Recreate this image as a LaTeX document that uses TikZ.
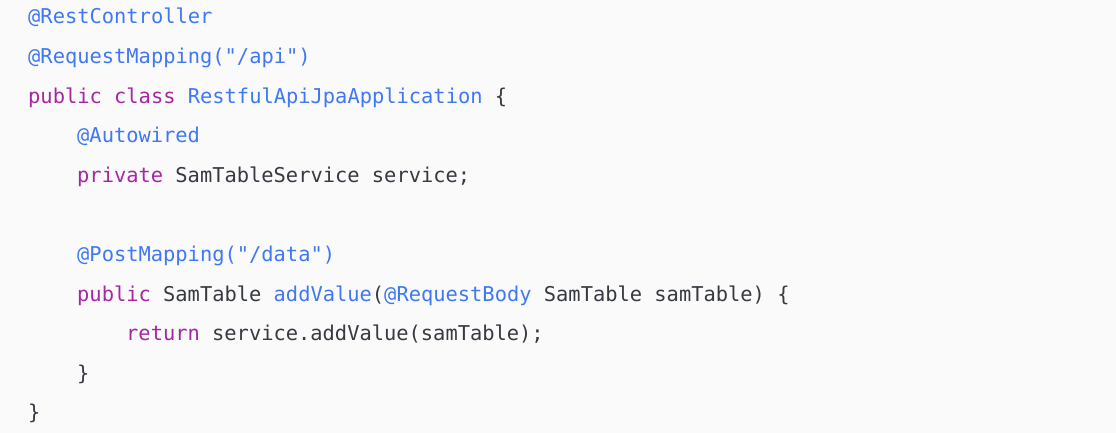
\documentclass[tikz,border=0pt]{standalone}
\usepackage{fontspec}
\setmonofont{DejaVu Sans Mono}
\definecolor{codebg}{HTML}{FAFAFA}
\definecolor{anno}{HTML}{4078F2}
\definecolor{kw}{HTML}{A626A4}
\definecolor{plain}{HTML}{383A42}
\newcommand\an[1]{\textcolor{anno}{#1}}
\newcommand\kw[1]{\textcolor{kw}{#1}}
% one line of code: name, line number, indent (chars), text
\newcommand\codeline[4]{\node[codetext] (#1) at ({28+#3*12.25},{24+(#2-1)*39.6}) {#4};}

\begin{document}
\begin{tikzpicture}[x=1bp, y=-1bp,
    codetext/.style={anchor=base west, inner sep=0pt, text=plain,
        font=\ttfamily\fontsize{20.4bp}{24bp}\selectfont}]
    \fill[codebg] (0,0) rectangle (1116,433);
    \useasboundingbox (0,0) rectangle (1116,433);

    % class header
    \codeline{restctl}{1}{0}{\an{@RestController}}
    \codeline{reqmap}{2}{0}{\an{@RequestMapping("/api")}}
    \codeline{classdecl}{3}{0}{\kw{public class} \an{RestfulApiJpaApplication} \{}

    % field
    \codeline{autowired}{4}{4}{\an{@Autowired}}
    \codeline{field}{5}{4}{\kw{private} SamTableService service;}

    % method
    \codeline{postmap}{7}{4}{\an{@PostMapping("/data")}}
    \codeline{method}{8}{4}{\kw{public} SamTable \an{addValue}(\an{@RequestBody} SamTable samTable) \{}
    \codeline{ret}{9}{8}{\kw{return} service.addValue(samTable);}
    \codeline{methodend}{10}{4}{\}}
    \codeline{classend}{11}{0}{\}}
\end{tikzpicture}
\end{document}
